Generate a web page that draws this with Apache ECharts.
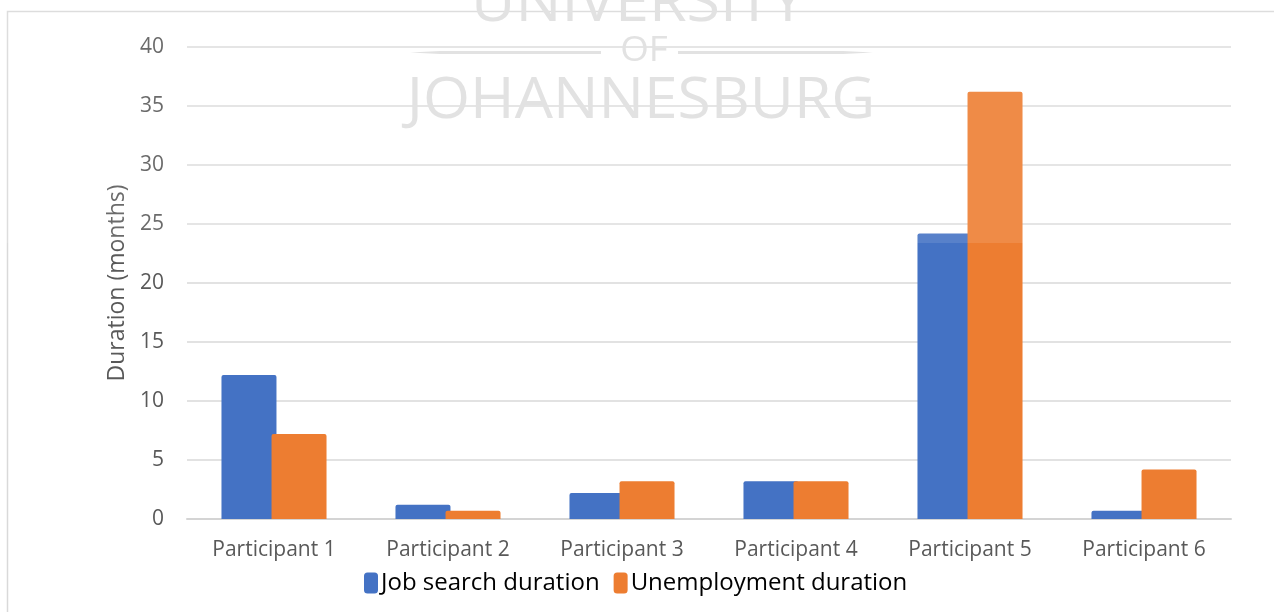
<!DOCTYPE html>
<html>
<head>
<meta charset="utf-8">
<script src="https://cdn.jsdelivr.net/npm/echarts@6/dist/echarts.min.js"></script>
<style>
  html, body { margin: 0; padding: 0; background: #ffffff; }
  #chart { width: 1274px; height: 612px; }
</style>
</head>
<body>
<div id="chart"></div>
<script>
// Participants and their durations in months
const categories = ['Participant 1', 'Participant 2', 'Participant 3', 'Participant 4', 'Participant 5', 'Participant 6'];
const jobSearch = [12.2, 1.2, 2.2, 3.2, 24.2, 0.7];
const unemployment = [7.2, 0.7, 3.2, 3.2, 36.2, 4.2];
const yMin = 0, yMax = 40, yStep = 5;

const chart = echarts.init(document.getElementById('chart'));
const axisFont = '"Open Sans", Lato, sans-serif';
const markFont = '"Open Sans", Lato, sans-serif';
const mark = '#e2e2e2';

chart.setOption({
  animation: false,
  backgroundColor: '#ffffff',
  grid: { left: 187, right: 43, top: 47, bottom: 93 },
  legend: {
    data: ['Job search duration', 'Unemployment duration'],
    left: 359, top: 566,
    icon: 'roundRect', itemWidth: 14, itemHeight: 21, itemGap: 14,
    textStyle: { fontFamily: axisFont, fontSize: 24, color: '#000000', padding: [0, 0, 0, -2] }
  },
  xAxis: {
    type: 'category',
    data: categories,
    axisTick: { show: false },
    axisLine: { show: true, lineStyle: { color: '#d4d4d4', width: 2 } },
    axisLabel: { color: '#595959', fontFamily: axisFont, fontSize: 21, margin: 21 }
  },
  yAxis: {
    type: 'value',
    min: yMin, max: yMax, interval: yStep,
    name: 'Duration (months)',
    nameLocation: 'middle', nameGap: 56,
    nameTextStyle: { color: '#595959', fontFamily: axisFont, fontSize: 23 },
    axisLine: { show: false },
    axisTick: { show: false },
    axisLabel: { color: '#595959', fontFamily: axisFont, fontSize: 21, margin: 23 },
    splitLine: { lineStyle: { color: '#d9d9d9', width: 1.5 } }
  },
  series: [
    {
      name: 'Job search duration', type: 'bar', data: jobSearch,
      barWidth: 55, barGap: '-9%',
      itemStyle: { color: '#4472C4', borderRadius: [2, 2, 0, 0] }
    },
    {
      name: 'Unemployment duration', type: 'bar', data: unemployment,
      barWidth: 55, barGap: '-9%',
      itemStyle: { color: '#ED7D31', borderRadius: [2, 2, 0, 0] }
    }
  ],
  graphic: [
    // outer chart frame (top and left edges visible)
    { type: 'rect', z: 0, silent: true,
      shape: { x: 7.5, y: 11.5, width: 1300, height: 640 },
      style: { fill: 'none', stroke: '#d9d9d9', lineWidth: 1.5 } },
    // university banner over the top of the plot
    { type: 'rect', z: 100, silent: true,
      shape: { x: 0, y: 0, width: 1274, height: 243 },
      style: { fill: 'rgba(255,255,255,0.11)' } },
    { type: 'text', z: 101, silent: true, x: 638, y: 5, scaleX: 1.09,
      style: { text: 'UNIVERSITY', fill: mark, font: '56px ' + markFont, textAlign: 'center', textVerticalAlign: 'middle' } },
    { type: 'text', z: 101, silent: true, x: 644, y: 51, scaleX: 1.05,
      style: { text: 'OF', fill: mark, font: '35px ' + markFont, textAlign: 'center', textVerticalAlign: 'middle' } },
    { type: 'polygon', z: 101, silent: true,
      shape: { points: [[410, 52.5], [440, 51], [601, 51], [601, 54], [440, 54]] },
      style: { fill: mark } },
    { type: 'polygon', z: 101, silent: true,
      shape: { points: [[678, 51], [843, 51], [873, 52.5], [843, 54], [678, 54]] },
      style: { fill: mark } },
    { type: 'text', z: 101, silent: true, x: 641, y: 102, scaleX: 1.08,
      style: { text: 'JOHANNESBURG', fill: mark, font: '56px ' + markFont, textAlign: 'center', textVerticalAlign: 'middle' } }
  ]
});
</script>
</body>
</html>
